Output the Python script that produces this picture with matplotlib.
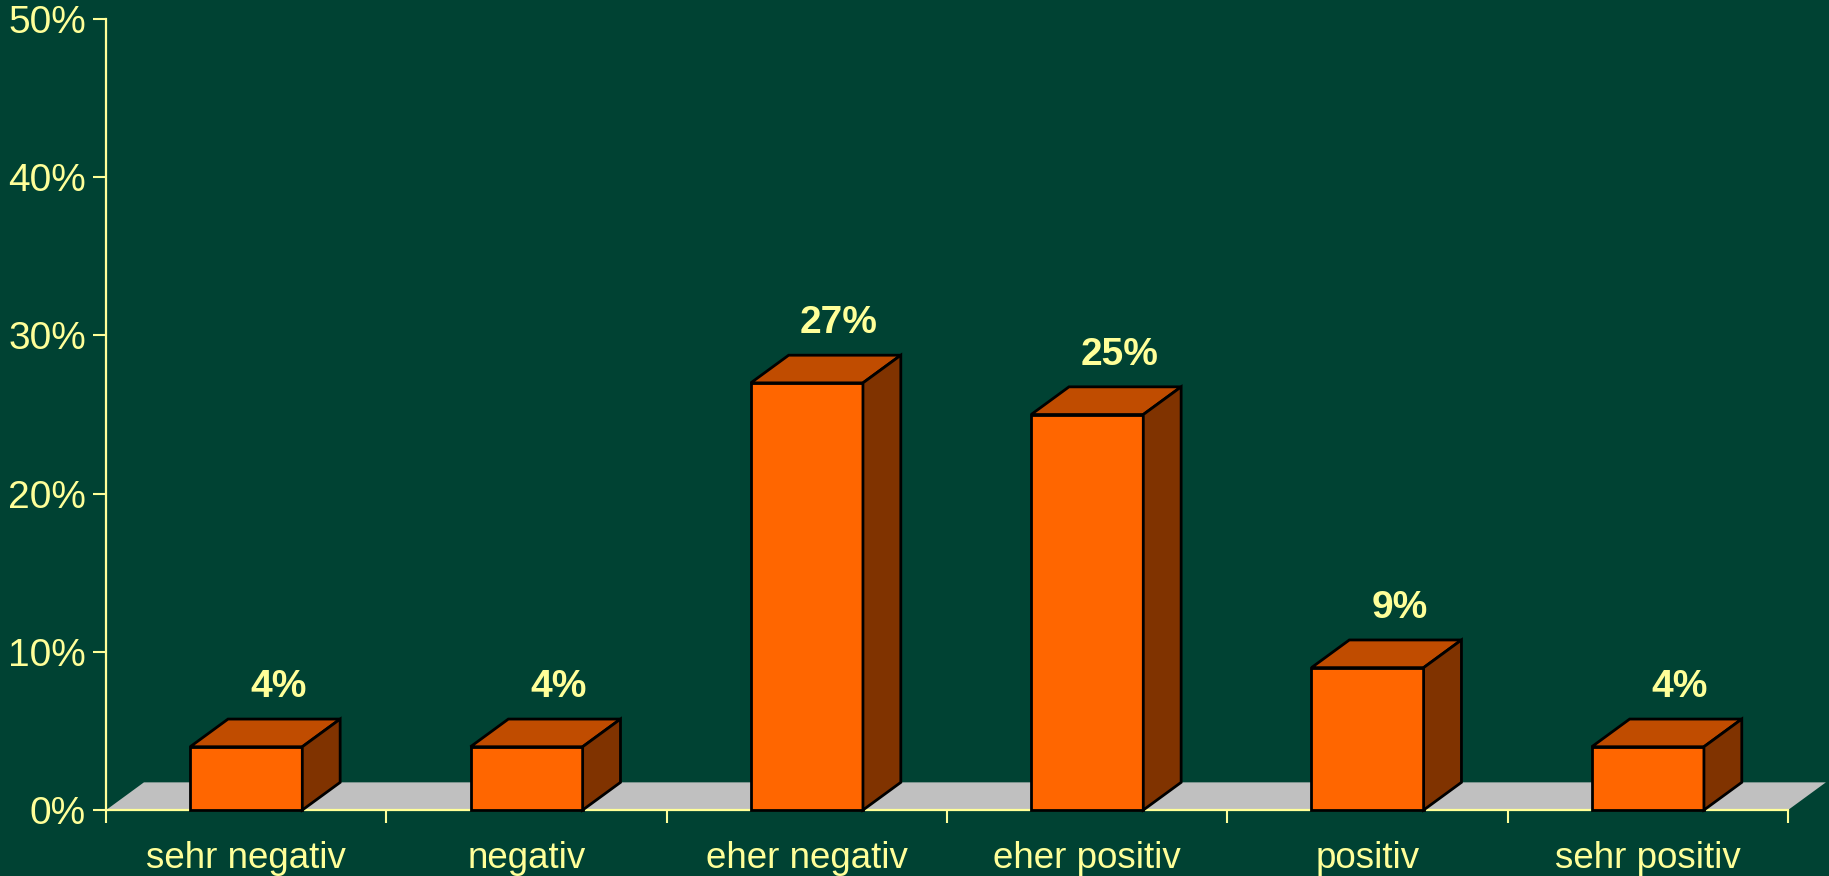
import matplotlib
matplotlib.use("Agg")
import matplotlib.pyplot as plt

kategorien = ['sehr negativ', 'negativ', 'eher negativ', 'eher positiv', 'positiv', 'sehr positiv']
werte = [4, 4, 27, 25, 9, 4]
y_ticks = [0, 10, 20, 30, 40, 50]
y_labels = ['0%', '10%', '20%', '30%', '40%', '50%']

bg = '#004233'
gelb = '#FFFF99'
front = '#FF6600'
oben = '#C04C00'
seite = '#803300'
boden = '#C0C0C0'

plt.rcParams['font.family'] = ['Liberation Sans', 'DejaVu Sans']

fig = plt.figure(figsize=(18.29, 8.76), dpi=100, facecolor=bg)
ax = fig.add_axes([0.058, 0.0753, 0.9196, 0.903])
ax.set_facecolor(bg)
ax.set_xlim(0, len(kategorien))
ax.set_ylim(0, 50)

# Tiefe der 3D-Darstellung (in Datenkoordinaten)
dx = 0.135
dy = 1.75
breite = 0.4

# Boden
n = len(kategorien)
ax.fill([0, n, n + dx, dx], [0, 0, dy, dy], color=boden, lw=0, zorder=1, clip_on=False)

for i, v in enumerate(werte):
    x0 = i + 0.5 - breite / 2
    x1 = x0 + breite
    kw = dict(ec='black', lw=2, zorder=3, clip_on=False, joinstyle='miter')
    ax.fill([x0, x1, x1, x0], [0, 0, v, v], fc=front, **kw)
    ax.fill([x0, x1, x1 + dx, x0 + dx], [v, v, v + dy, v + dy], fc=oben, **kw)
    ax.fill([x1, x1 + dx, x1 + dx, x1], [0, dy, v + dy, v], fc=seite, **kw)
    ax.text(i + 0.5 + dx * 0.85, v + dy + 1.4, f'{v}%', ha='center', va='baseline',
            color=gelb, fontsize=28, fontweight='bold', zorder=4)

for s in ['top', 'right']:
    ax.spines[s].set_visible(False)
for s in ['left', 'bottom']:
    ax.spines[s].set_color(gelb)
    ax.spines[s].set_linewidth(1.6)
    ax.spines[s].set_zorder(2)

ax.set_yticks(y_ticks)
ax.set_yticklabels(y_labels)
ax.tick_params(axis='y', colors=gelb, labelsize=28, length=9.5, width=1.5, direction='out', pad=5)

ax.set_xticks(range(n + 1))
ax.set_xticklabels([])
ax.set_xticks([i + 0.5 for i in range(n)], minor=True)
ax.set_xticklabels(kategorien, minor=True)
ax.tick_params(axis='x', which='major', colors=gelb, length=9.5, width=1.5, direction='out')
ax.tick_params(axis='x', which='minor', colors=gelb, labelsize=26.5, length=0, pad=22)

fig.savefig('out.png', dpi=100, facecolor=bg)
